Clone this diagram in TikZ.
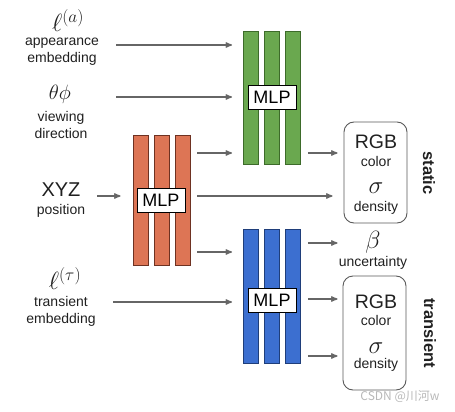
\documentclass[tikz,border=0pt]{standalone}
\usepackage{fontspec}
\setmainfont{Liberation Sans}
\newfontfamily\cjk{Noto Sans CJK SC}
\usepackage{tikz}
\usetikzlibrary{arrows,positioning}
\definecolor{gfill}{HTML}{6AA84F}
\definecolor{gline}{HTML}{3D6B2A}
\definecolor{ofill}{HTML}{DD7555}
\definecolor{oline}{HTML}{6E3222}
\definecolor{bfill}{HTML}{3C6FD0}
\definecolor{bline}{HTML}{1F3E7A}
\definecolor{arrgray}{HTML}{666666}
\definecolor{txt}{HTML}{202020}
\newcommand\fs[2][1.2]{\fontsize{#2}{#1\dimexpr #2pt\relax}\selectfont}

\begin{document}
\begin{tikzpicture}[x=1pt,y=-1pt,>=stealth',
	arr/.style={->,draw=arrgray,line width=1.3pt},
	bar/.style={draw=#1line,fill=#1fill,line width=0.9pt,minimum width=15pt,inner sep=0pt},
	mlp/.style={draw=black,fill=white,line width=0.9pt,minimum width=48pt,minimum height=24pt,inner sep=0pt,font=\fs{18}},
	outbox/.style={draw=black!65,rounded corners=10pt,line width=0.9pt,minimum width=63pt,inner sep=0pt},
	lbl/.style={text=txt,font=\fs{14},align=center,inner sep=0pt},
	sym/.style={text=txt,font=\fs{24},inner sep=0pt},
	side/.style={text=txt,font=\fs{16.5}\bfseries,rotate=-90,inner sep=0pt}]
\useasboundingbox (0,0) rectangle (455,412);

% MLP blocks
\foreach \i/\x in {1/251,2/272,3/293}
	\node[bar=g,minimum height=133pt] (g\i) at (\x,97.5) {};
\foreach \i/\x in {1/140.5,2/161.5,3/182.5}
	\node[bar=o,minimum height=130pt] (o\i) at (\x,200) {};
\foreach \i/\x in {1/251,2/272,3/293}
	\node[bar=b,minimum height=134pt] (b\i) at (\x,296) {};
\node[mlp] (gmlp) at (272,97) {MLP};
\node[mlp] (omlp) at (161,200) {MLP};
\node[mlp] (bmlp) at (272,300) {MLP};

% inputs
\node[sym] (ella) at (68,21) {$\ell^{(a)}$};
\node[lbl] (app) at (62,52) {appearance\\embedding};
\node[sym,font=\fs{21}] (view) at (60,94) {$\theta\phi$};
\node[lbl] (dir) at (61,125) {viewing\\direction};
\node[text=txt,font=\fs{20},inner sep=0pt] (xyz) at (61,190) {XYZ};
\node[lbl] (pos) at (61,211) {position};
\node[sym] (ellt) at (65,279) {$\ell^{(\tau)}$};
\node[lbl] (trans) at (61,311) {transient\\embedding};

% outputs
\node[outbox,minimum height=101pt] (stat) at (375.5,172.5) {};
\node[text=txt,font=\fs{19.5},inner sep=0pt] (srgb) at (376,142) {RGB};
\node[lbl] (scol) at (376,161) {color};
\node[sym] (ssig) at (376,188) {$\sigma$};
\node[lbl] (sden) at (376,208) {density};
\node[sym,font=\fs{23}] (beta) at (373,242) {$\beta$};
\node[lbl] (unc) at (373,263) {uncertainty};
\node[outbox,minimum height=114pt] (tran) at (374.5,333) {};
\node[text=txt,font=\fs{19.5},inner sep=0pt] (trgb) at (376,302) {RGB};
\node[lbl] (tcol) at (376,320) {color};
\node[sym] (tsig) at (376,348) {$\sigma$};
\node[lbl] (tden) at (376,365) {density};
\node[side] at (429,173) {static};
\node[side] at (430,333) {transient};

% arrows
\coordinate (ia) at (116,45);
\coordinate (iv) at (116,97);
\coordinate (ix) at (97,196);
\coordinate (it) at (113,302);
\draw[arr,shorten >=11pt] (ia) -- (ia -| g1.west);
\draw[arr,shorten >=11pt] (iv) -- (iv -| g1.west);
\draw[arr,shorten >=12pt] (ix) -- (ix -| o1.west);
\draw[arr,shorten >=11pt] (it) -- (it -| b1.west);
\draw[arr,shorten <=7pt,shorten >=11pt] (o3.east |- 0,153) -- (g1.west |- 0,153);
\draw[arr,shorten <=7pt,shorten >=11pt] (o3.east |- 0,196) -- (stat.west |- 0,196);
\draw[arr,shorten <=7pt,shorten >=11pt] (o3.east |- 0,252) -- (b1.west |- 0,252);
\draw[arr,shorten <=7pt,shorten >=6pt] (g3.east |- 0,153) -- (stat.west |- 0,153);
\draw[arr,shorten <=7pt,shorten >=5pt] (b3.east |- 0,243) -- (tran.west |- 0,243);
\draw[arr,shorten <=7pt,shorten >=5pt] (b3.east |- 0,299) -- (tran.west |- 0,299);
\draw[arr,shorten <=7pt,shorten >=5pt] (b3.east |- 0,356) -- (tran.west |- 0,356);

\node[text=black!28,font=\cjk\fs{12},inner sep=0pt] (wm) at (400,397) {CSDN @川河w};
\end{tikzpicture}
\end{document}
